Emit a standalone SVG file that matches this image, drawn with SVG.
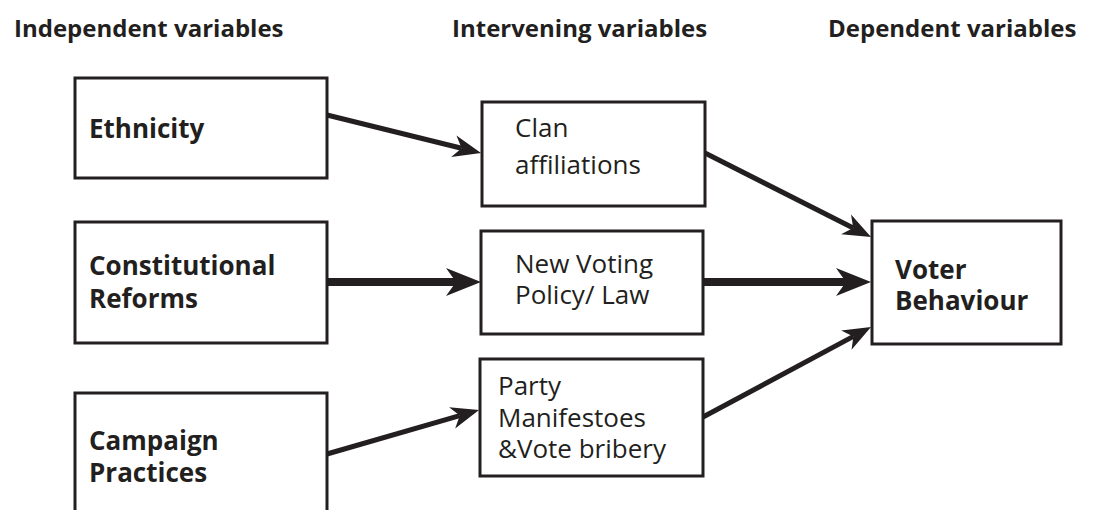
<svg xmlns="http://www.w3.org/2000/svg" width="1097" height="510" viewBox="0 0 1097 510">
<style>
.box{fill:#fff;stroke:#231f20;stroke-width:3}
.hd{font-family:"Open Sans",sans-serif;font-weight:bold;font-size:24px;fill:#231f20}
.b{font-family:"Open Sans",sans-serif;font-weight:bold;font-size:26px;fill:#231f20}
.r{font-family:"Open Sans",sans-serif;font-size:26px;fill:#231f20}
.thin{stroke:#231f20;stroke-width:5;fill:none;marker-end:url(#ahThin)}
.thick{stroke:#231f20;stroke-width:8;fill:none;marker-end:url(#ahThick)}
</style>
<defs>
<marker id="ahThin" markerUnits="userSpaceOnUse" orient="auto" refX="8" refY="0" markerWidth="40" markerHeight="40" overflow="visible">
<path d="M0,-11 L28,0 L0,11 L8,0 Z" fill="#231f20"/>
</marker>
<marker id="ahThick" markerUnits="userSpaceOnUse" orient="auto" refX="10" refY="0" markerWidth="50" markerHeight="50" overflow="visible">
<path d="M0,-14 L35,0 L0,14 L10,0 Z" fill="#231f20"/>
</marker>
</defs>
<rect width="1097" height="510" fill="#fff"/>
<g id="headers">
<text class="hd" x="14" y="37">Independent variables</text>
<text class="hd" x="452" y="37">Intervening variables</text>
<text class="hd" x="828" y="37">Dependent variables</text>
</g>
<g id="connectors">
<path class="thin" d="M327,115 L461.6,148.2"/>
<path class="thin" d="M705,153 L853.2,228"/>
<path class="thick" d="M327,282 L456,282"/>
<path class="thick" d="M703,282 L846,282"/>
<path class="thin" d="M327,454 L459.8,415.6"/>
<path class="thin" d="M703,417 L853.4,336.4"/>
</g>
<g id="ethnicity">
<rect class="box" x="75" y="78" width="252" height="100"/>
<text class="b" x="89" y="138">Ethnicity</text>
</g>
<g id="constitutional">
<rect class="box" x="75" y="222" width="252" height="121"/>
<text class="b" x="89" y="275">Constitutional</text>
<text class="b" x="89" y="308">Reforms</text>
</g>
<g id="campaign">
<rect class="box" x="75" y="393" width="252" height="130"/>
<text class="b" x="89" y="450">Campaign</text>
<text class="b" x="89" y="482">Practices</text>
</g>
<g id="clan">
<rect class="box" x="482" y="102" width="223" height="104"/>
<text class="r" x="515" y="137">Clan</text>
<text class="r" x="515" y="174">affiliations</text>
</g>
<g id="newvoting">
<rect class="box" x="481" y="231" width="222" height="103"/>
<text class="r" x="515" y="273">New Voting</text>
<text class="r" x="515" y="304">Policy/ Law</text>
</g>
<g id="party">
<rect class="box" x="480" y="359" width="223" height="117"/>
<text class="r" x="498" y="395">Party</text>
<text class="r" x="498" y="427">Manifestoes</text>
<text class="r" x="498" y="458">&amp;Vote bribery</text>
</g>
<g id="voter">
<rect class="box" x="872" y="221" width="189" height="123"/>
<text class="b" x="895" y="279">Voter</text>
<text class="b" x="895" y="310">Behaviour</text>
</g>
</svg>
